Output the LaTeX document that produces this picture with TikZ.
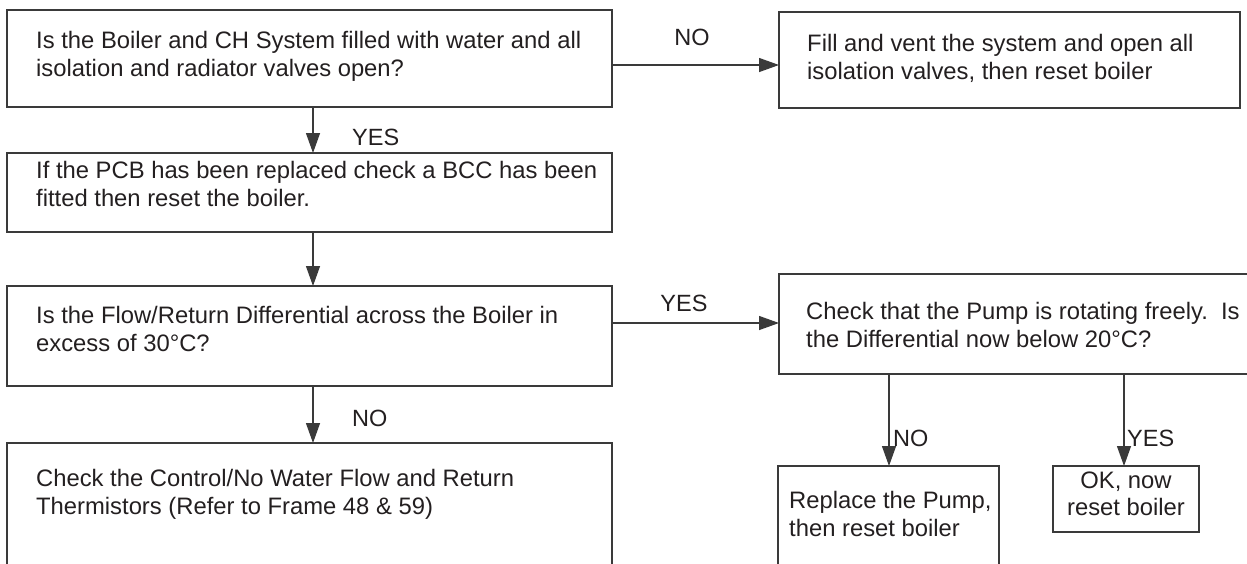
\documentclass[tikz,border=0pt]{standalone}
\usepackage{fontspec}
\setmainfont{Liberation Sans}
\usetikzlibrary{arrows.meta}
\definecolor{ln}{HTML}{3A3A3A}
\definecolor{tx}{HTML}{231F20}
\tikzset{
  box/.style={draw=ln, line width=1.3pt, anchor=north west, inner sep=0pt, outer sep=0pt},
  txt/.style={text=tx, inner sep=0pt, anchor=north west, align=left, font=\fontsize{23.8}{27.5}\selectfont},
  lbl/.style={text=tx, inner sep=0pt, font=\fontsize{23.5}{28}\selectfont},
  arr/.style={draw=ln, line width=1.3pt, -{Triangle[length=20pt,width=14pt]}}
}
\begin{document}
\begin{tikzpicture}[x=1pt,y=-1pt]
\useasboundingbox (0,0) rectangle (1247,563);
\clip (0,0) rectangle (1247,563);
% boxes
\node[box, minimum width=605pt, minimum height=97pt] (b1) at (7,10) {};
\node[box, minimum width=461pt, minimum height=96pt] (b2) at (779,12) {};
\node[box, minimum width=605pt, minimum height=79pt] (b3) at (7,153) {};
\node[box, minimum width=605pt, minimum height=100pt] (b4) at (7,286) {};
\node[box, minimum width=490pt, minimum height=100pt] (b5) at (779,274) {};
\node[box, minimum width=221pt, minimum height=120pt] (b6) at (778,466) {};
\node[box, minimum width=146pt, minimum height=66pt] (b7) at (1053,466) {};
\node[box, minimum width=605pt, minimum height=140pt] (b8) at (7,443) {};
% texts
\node[txt] (t1) at (36,31.5) {Is the Boiler and CH System filled with water and all\\isolation and radiator valves open?};
\node[txt] (t2) at (807,34.5) {Fill and vent the system and open all\\isolation valves, then reset boiler};
\node[txt] (t3) at (36,161.5) {If the PCB has been replaced check a BCC has been\\fitted then reset the boiler.};
\node[txt] (t4) at (36,306.5) {Is the Flow/Return Differential across the Boiler in\\excess of 30\textdegree C?};
\node[txt] (t5) at (806,302.5) {Check that the Pump is rotating freely.\ \ Is\\the Differential now below 20\textdegree C?};
\node[txt] (t6) at (789,491.5) {Replace the Pump,\\then reset boiler};
\node[txt, anchor=north, align=center] (t7) at (1126,471.5) {OK, now\\reset boiler};
\node[txt] (t8) at (36,469.5) {Check the Control/No Water Flow and Return\\Thermistors (Refer to Frame 48 \& 59)};
% connectors
\draw[arr] ([yshift=-6.5pt]b1.east) -- ([yshift=-6.5pt]b1.east -| b2.west);
\node[lbl] (l1) at (692,37) {NO};
\draw[arr] ([xshift=3.5pt]b1.south) -- ([xshift=3.5pt]b1.south |- b3.north);
\node[lbl, anchor=west] (l2) at (352,137) {YES};
\draw[arr] ([xshift=3.5pt]b3.south) -- ([xshift=3.5pt]b3.south |- b4.north);
\draw[arr] ([yshift=13pt]b4.east) -- ([yshift=13pt]b4.east -| b5.west);
\node[lbl] (l3) at (684,303) {YES};
\draw[arr] ([xshift=3.5pt]b4.south) -- ([xshift=3.5pt]b4.south |- b8.north);
\node[lbl, anchor=west] (l4) at (352,418) {NO};
\draw[arr] ([xshift=0.5pt]b6.north |- b5.south) -- ([xshift=0.5pt]b6.north);
\node[lbl, anchor=west] (l5) at (893,438) {NO};
\draw[arr] ([xshift=-2pt]b7.north |- b5.south) -- ([xshift=-2pt]b7.north);
\node[lbl, anchor=west] (l6) at (1127,438) {YES};
\end{tikzpicture}
\end{document}
